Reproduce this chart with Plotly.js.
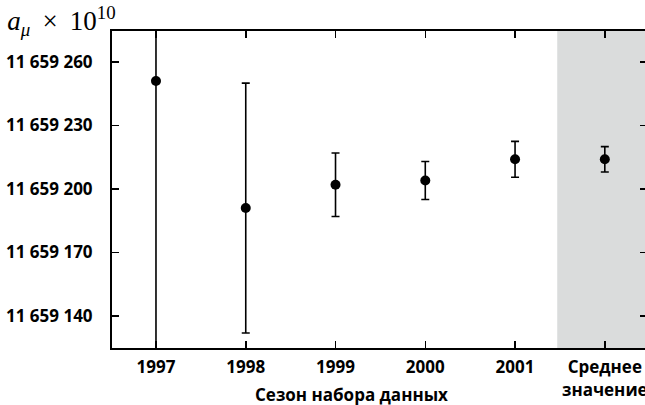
<!DOCTYPE html>
<html><head><meta charset="utf-8">
<script src="https://cdn.plot.ly/plotly-3.0.1.min.js"></script>
<style>html,body{margin:0;padding:0;overflow:hidden;background:#fff;width:645px;height:405px}</style>
</head><body><div id="plot"></div>
<script>
const categories = ["1997", "1998", "1999", "2000", "2001", "Среднее<br>значение"];
const aMu = [11659251, 11659191, 11659202, 11659204, 11659214, 11659214];
const aMuErr = [150, 59, 15, 9, 8.5, 6];
const yTickVals = [11659140, 11659170, 11659200, 11659230, 11659260];
const yTickText = ["11 659 140", "11 659 170", "11 659 200", "11 659 230", "11 659 260"];

const xIdx = categories.map((c, i) => i);
const FONT = "Open Sans, Noto Sans, DejaVu Sans, sans-serif";

const trace = {
  type: "scatter", mode: "markers",
  x: xIdx, y: aMu,
  marker: {color: "#000", size: 10},
  error_y: {type: "data", array: aMuErr, visible: true, color: "#000", thickness: 1.6, width: 4},
  showlegend: false, hoverinfo: "none"
};

const layout = {
  width: 660, height: 405,
  margin: {l: 112, r: 13, t: 31, b: 57},
  paper_bgcolor: "#fff", plot_bgcolor: "rgba(0,0,0,0)",
  title: {text: "<i>a</i><sub><i>μ</i></sub>\u2009 × \u200910<sup>10</sup>", font: {family: "Liberation Serif, DejaVu Serif, serif", size: 27, color: "#000"},
    xref: "container", yref: "container", x: 0.011, xanchor: "left", y: 0.972, yanchor: "top"},
  xaxis: {range: [-0.49, 5.47], tickvals: xIdx, ticktext: categories,
    showline: true, linewidth: 2, linecolor: "#000", mirror: "ticks",
    ticks: "inside", ticklen: 7, tickwidth: 1.5, tickcolor: "#000",
    showgrid: false, zeroline: false, ticklabelstandoff: 3,
    tickfont: {family: FONT, size: 17, weight: "bold", color: "#000"}},
  yaxis: {range: [11659124.9, 11659274.6], tickvals: yTickVals, ticktext: yTickText,
    showline: true, linewidth: 2, linecolor: "#000", mirror: "ticks",
    ticks: "inside", ticklen: 7, tickwidth: 1.5, tickcolor: "#000",
    showgrid: false, zeroline: false, ticklabelstandoff: 14,
    tickfont: {family: FONT, size: 17, weight: "bold", color: "#000"}},
  shapes: [{type: "rect", xref: "x", yref: "paper", x0: 4.47, x1: 5.47, y0: 0, y1: 1,
    fillcolor: "#dadcdc", line: {width: 0}, layer: "below"}],
  annotations: [{text: "Сезон набора данных", xref: "paper", yref: "paper",
    x: (351 - 112) / 535, y: -0.105, xanchor: "center", yanchor: "top", showarrow: false,
    font: {family: FONT, size: 17, weight: "bold", color: "#000"}}]
};

Plotly.newPlot("plot", [trace], layout, {displayModeBar: false, staticPlot: true});
</script></body></html>
